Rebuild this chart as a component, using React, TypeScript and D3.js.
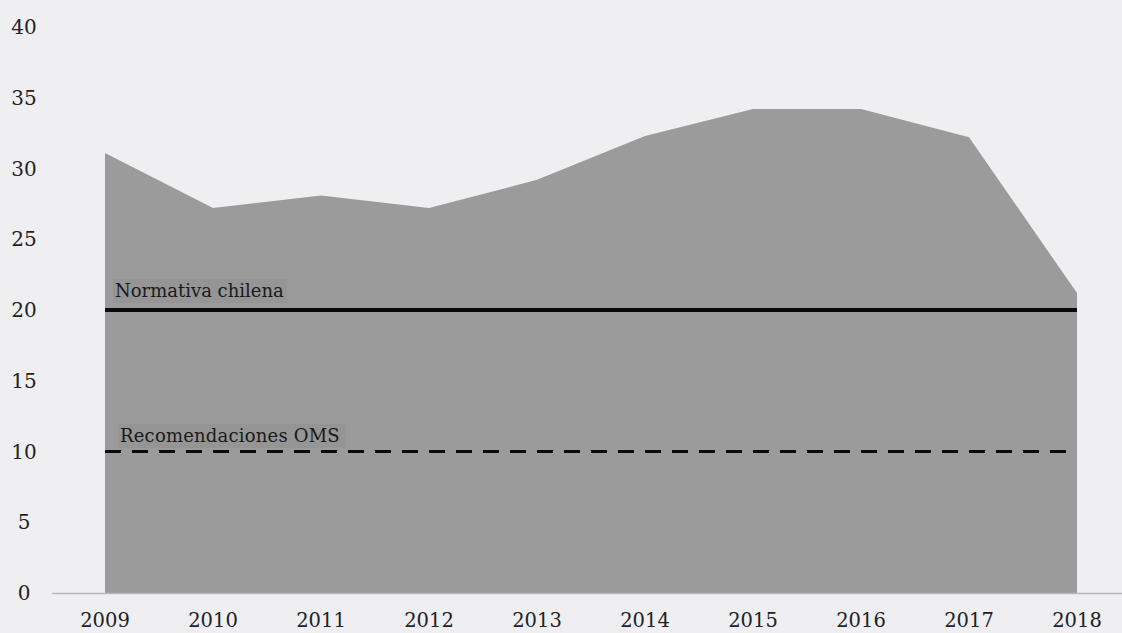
import React from "react";
import * as d3 from "d3";

const years = [2009, 2010, 2011, 2012, 2013, 2014, 2015, 2016, 2017, 2018];
const values = [31.1, 27.2, 28.1, 27.2, 29.2, 32.3, 34.2, 34.2, 32.2, 21.2];
const yTicks = [0, 5, 10, 15, 20, 25, 30, 35, 40];
const chileNorm = 20;
const whoNorm = 10;
const chileLabel = "Normativa chilena";
const whoLabel = "Recomendaciones OMS";

const W = 1122;
const H = 633;

export default function App() {
  const x = d3.scaleLinear().domain([2009, 2018]).range([105, 1077]);
  const y = d3.scaleLinear().domain([0, 40]).range([593, 27]);
  const data = years.map((yr, i) => ({ yr, v: values[i] }));
  const area = d3
    .area<{ yr: number; v: number }>()
    .x((d) => x(d.yr))
    .y0(y(0))
    .y1((d) => y(d.v))
    .curve(d3.curveLinear);
  const font = "'DejaVu Serif', serif";
  return (
    <svg
      width={W}
      height={H}
      style={{ position: "absolute", left: 0, top: 0, background: "#efeff1" }}
    >
      <rect x={0} y={0} width={W} height={H} fill="#efeff1" />
      <path d={area(data) || ""} fill="#9b9b9c" />
      <line x1={52} x2={W} y1={y(0) + 0.5} y2={y(0) + 0.5} stroke="#b8b8ba" strokeWidth={1.5} />
      {yTicks.map((t) => (
        <text
          key={t}
          x={24}
          y={y(t) + 7}
          textAnchor="middle"
          fontFamily={font}
          fontSize={20}
          fill="#222"
        >
          {t}
        </text>
      ))}
      {years.map((yr) => (
        <text
          key={yr}
          x={x(yr)}
          y={627}
          textAnchor="middle"
          fontFamily={font}
          fontSize={19.5}
          fill="#222"
        >
          {yr}
        </text>
      ))}
      <rect x={113} y={279} width={174} height={24} fill="#959596" />
      <rect x={118} y={424} width={228} height={24} fill="#959596" />
      <line
        x1={x(2009)}
        x2={x(2018)}
        y1={y(chileNorm)}
        y2={y(chileNorm)}
        stroke="#0a0a0a"
        strokeWidth={4}
      />
      <line
        x1={x(2009)}
        x2={1066}
        y1={y(whoNorm)}
        y2={y(whoNorm)}
        stroke="#0a0a0a"
        strokeWidth={3}
        strokeDasharray="16 11"
      />
      <text x={115} y={297} fontFamily={font} fontSize={18} fill="#1a1a1a">
        {chileLabel}
      </text>
      <text
        x={120}
        y={442}
        fontFamily={font}
        fontSize={18}
        letterSpacing={0.2}
        fill="#1a1a1a"
      >
        {whoLabel}
      </text>
    </svg>
  );
}
